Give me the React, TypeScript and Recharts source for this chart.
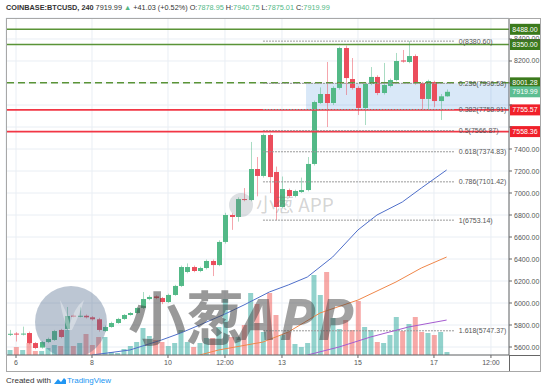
import React from 'react';
import {
  ComposedChart, Bar, Line, XAxis, YAxis, CartesianGrid, ReferenceLine, ReferenceArea, Cell,
} from 'recharts';

// ---- data (4h candles, index 0 = 5th 20:00) ----
const opens = [5715, 5722, 5716, 5727, 5636, 5595, 5645, 5664, 5755, 5764,
  5885, 5878, 5884, 5870, 5852, 5745, 5782, 5818, 5855, 5891,
  5909, 5955, 6036, 6060, 6045, 6009, 6073, 6155, 6282, 6327,
  6291, 6318, 6382, 6345, 6555, 6800, 6782, 6945, 6936, 7218,
  7155, 7527, 7191, 6873, 7027, 6973, 7009, 7027, 7264, 7818,
  7900, 7818, 7955, 8318, 8036, 7955, 7773, 7991, 8055, 7909,
  7973, 8027, 8205, 8191, 8245, 8000, 7855, 8009, 7836, 7878.95];
const highs = [5755, 5735, 5785, 5740, 5645, 5655, 5685, 5755, 5765, 5964,
  5895, 5960, 5895, 5880, 5865, 5795, 5830, 5865, 5900, 5918,
  5965, 6100, 6070, 6070, 6055, 6085, 6165, 6340, 6360, 6340,
  6330, 6395, 6395, 6570, 6820, 6815, 6960, 7045, 7464, 7327,
  7540, 7540, 7240, 7150, 7040, 7030, 7140, 7327, 7840, 7960,
  8191, 7970, 8330, 8340, 8227, 7970, 8000, 8145, 8070, 8182,
  8040, 8273, 8300, 8380.6, 8260, 8010, 8030, 8020, 7900, 7940.75];
const lows = [5700, 5650, 5705, 5625, 5580, 5585, 5635, 5655, 5680, 5750,
  5870, 5870, 5860, 5840, 5740, 5735, 5775, 5810, 5845, 5885,
  5900, 5945, 6025, 6035, 5990, 6000, 6065, 6145, 6270, 6280,
  6280, 6305, 6245, 6335, 6540, 6665, 6740, 6925, 6925, 6970,
  7140, 7000, 6753.14, 6860, 6960, 6960, 7000, 7015, 7250, 7810,
  7600, 7800, 7940, 7891, 7940, 7709, 7618, 7980, 7890, 7895,
  7960, 8015, 8185, 8180, 7985, 7755, 7760, 7780, 7664, 7875.01];
const closes = [5720, 5716, 5722, 5636, 5591, 5645, 5673, 5745, 5691, 5882,
  5878, 5884, 5870, 5852, 5755, 5782, 5818, 5855, 5891, 5909,
  5955, 6036, 6055, 6045, 6009, 6073, 6155, 6327, 6327, 6291,
  6318, 6382, 6345, 6555, 6800, 6782, 6945, 6936, 7218, 7155,
  7527, 7145, 6873, 7036, 6973, 7018, 7027, 7264, 7827, 7900,
  7818, 7955, 8318, 8045, 7955, 7773, 7991, 8055, 7909, 7982,
  8027, 8200, 8195, 8245, 8000, 7855, 8018, 7836, 7879, 7919.99];
const volumes = [500, 800, 500, 1200, 400, 400, 700, 1000, 900, 2500,
  900, 1200, 2100, 1000, 1800, 1800, 300, 200, 600, 900,
  1300, 2700, 1900, 1500, 1300, 900, 1200, 2500, 1300, 800,
  1200, 1700, 1700, 2800, 5600, 1800, 1800, 3000, 6200, 5100,
  2300, 6200, 4000, 2000, 2300, 1100, 800, 1200, 8000, 6000,
  8300, 3700, 2600, 3500, 2500, 5400, 2800, 2500, 1300, 1200,
  2000, 3800, 2400, 3100, 3800, 2300, 2200, 2000, 2300, 300];

// moving averages, sampled [candle index, price]
const maBlue: [number, number][] = [[13, 5527], [19, 5573], [24, 5664], [27, 5727], [30, 5800], [34, 5900],
  [37, 5982], [41, 6100], [44, 6164], [47, 6236], [51, 6418], [55, 6664], [58, 6800], [62, 6918], [65, 7045], [69, 7209]];
const maOrange: [number, number][] = [[30, 5527], [33, 5573], [40, 5645], [44, 5736], [49, 5909], [55, 6027],
  [61, 6191], [65, 6318], [69, 6418]];
const maPurple: [number, number][] = [[47, 5527], [52, 5600], [57, 5691], [63, 5782], [69, 5845]];

// x-axis ticks
const xTickIndex = [1, 13, 25, 34, 43, 55, 67, 76];
const xTickLabels = ['6', '8', '10', '12:00', '13', '15', '17', '12:00'];
const priceTicks = [5600, 5800, 6000, 6200, 6400, 6600, 6800, 7000, 7200, 7400, 7600, 7800, 8000, 8200, 8400];
const hiddenPriceTicks = [7600, 7800, 8000];

// fibonacci retracement
const fibRatios = ['0', '0.236', '0.382', '0.5', '0.618', '0.786', '1', '1.618'];
const fibPrices = [8380.60, 7996.58, 7758.91, 7566.87, 7374.83, 7101.42, 6753.14, 5747.37];
const fibStart = 40;
const fibEnd = 70.3;
const fibBoxStart = 46.8;

// horizontal levels
const greenLevels = [8488.00, 8350.00];
const dashedLevel = 8001.28;
const redLevels = [7755.57, 7558.36];
const lastPrice = 7919.99;

const X_DOMAIN: [number, number] = [-0.58, 78.85];
const Y_DOMAIN: [number, number] = [5527.3, 8590.9];

const GREEN = '#53b987';
const RED = '#eb4d5c';
const VOL_GREEN = 'rgba(38,166,154,0.5)';
const VOL_RED = 'rgba(239,83,80,0.5)';
const LEVEL_GREEN = '#5a9437';
const TAG_GREEN = '#3b7a1c';
const LEVEL_RED = '#f23645';
const FONT = '"Liberation Sans", Arial, sans-serif';

const toMap = (pts: [number, number][]) => {
  const m: Record<number, number> = {};
  pts.forEach(([i, v]) => { m[i] = v; });
  return m;
};
const blueMap = toMap(maBlue);
const orangeMap = toMap(maOrange);
const purpleMap = toMap(maPurple);

const data = opens.map((o, i) => ({
  i,
  open: o,
  high: highs[i],
  low: lows[i],
  close: closes[i],
  range: [lows[i], highs[i]],
  volume: volumes[i],
  maBlue: blueMap[i] ?? null,
  maOrange: orangeMap[i] ?? null,
  maPurple: purpleMap[i] ?? null,
}));

const Candle = (props: any) => {
  const { x, y, width, height, payload } = props;
  if (x == null || y == null) return <g />;
  const { open, close, high, low } = payload;
  const up = close >= open;
  const color = up ? GREEN : RED;
  const top = Math.min(y, y + height);
  const h = Math.abs(height);
  const range = high - low || 1;
  const py = (p: number) => top + ((high - p) / range) * h;
  const cx = Math.round(x + width / 2) + 0.5;
  const bTop = py(Math.max(open, close));
  const bBot = py(Math.min(open, close));
  return (
    <g>
      <line x1={cx} x2={cx} y1={top} y2={top + h} stroke={color} strokeOpacity={0.5} strokeWidth={1} />
      <rect x={cx - 2.5} y={bTop} width={5} height={Math.max(1, bBot - bTop)} fill={color} />
    </g>
  );
};

const PriceTick = (props: any) => {
  const { x, y, payload } = props;
  if (hiddenPriceTicks.includes(payload.value)) return <g />;
  return (
    <text x={x} y={y} dy={2.5} fontSize={7} fill="#555" fontFamily={FONT} textAnchor="start">
      {Number(payload.value).toFixed(2)}
    </text>
  );
};

const makeTag = (bg: string, text: string) => (props: any) => {
  const vb = props.viewBox || {};
  const x = (vb.x ?? 0) + (vb.width ?? 0) + 1;
  const y = vb.y ?? 0;
  return (
    <g>
      <rect x={x} y={y - 5.5} width={30} height={11} fill={bg} />
      <text x={x + 15} y={y + 2.5} textAnchor="middle" fontSize={7} fill="#fff" fontFamily={FONT}>{text}</text>
    </g>
  );
};

export default function App() {
  return (
    <div style={{ position: 'absolute', left: 0, top: 0, width: 550, height: 387, background: '#fff', fontFamily: FONT, overflow: 'hidden' }}>
      <div style={{ position: 'absolute', left: 6, top: 3, fontSize: 7.3, color: '#333', whiteSpace: 'nowrap', lineHeight: '10px' }}>
        <b>COINBASE:BTCUSD, 240</b> 7919.99 <span style={{ color: GREEN }}>▲</span> +41.03 (+0.52%) O:<span style={{ color: GREEN }}>7878.95</span> H:<span style={{ color: GREEN }}>7940.75</span> L:<span style={{ color: GREEN }}>7875.01</span> C:<span style={{ color: GREEN }}>7919.99</span>
      </div>
      <div style={{ position: 'absolute', left: 0, top: 0 }}>
        <ComposedChart width={550} height={387} data={data} margin={{ top: 18, right: 10, left: 6, bottom: 16 }}>
          <CartesianGrid stroke="#e9eef4" strokeWidth={1} />
          <XAxis
            dataKey="i" type="number" domain={X_DOMAIN} allowDataOverflow ticks={xTickIndex}
            tickFormatter={(v: number) => xTickLabels[xTickIndex.indexOf(v)] ?? ''}
            height={16} tickSize={3} tick={{ fontSize: 7, fill: '#555', fontFamily: FONT }}
            axisLine={{ stroke: '#666' }} tickLine={{ stroke: '#666' }} interval={0}
          />
          <XAxis xAxisId="v" dataKey="i" type="number" domain={X_DOMAIN} allowDataOverflow hide />
          <YAxis
            orientation="right" domain={Y_DOMAIN} allowDataOverflow ticks={priceTicks} width={31}
            tickSize={3} tick={<PriceTick />} axisLine={{ stroke: '#666' }} tickLine={{ stroke: '#666' }} interval={0}
          />
          <YAxis yAxisId="v" domain={[0, 33700]} hide allowDataOverflow />

          <Bar xAxisId="v" yAxisId="v" dataKey="volume" barSize={5} isAnimationActive={false}>
            {data.map((d, k) => (
              <Cell key={k} fill={d.close >= d.open ? VOL_GREEN : VOL_RED} />
            ))}
          </Bar>

          <ReferenceArea x1={fibBoxStart} y1={fibPrices[2]} y2={fibPrices[1]} fill="#2f80d8" fillOpacity={0.18} stroke="none" ifOverflow="extendDomain" />

          {greenLevels.map((p) => (
            <ReferenceLine key={p} y={p} stroke={LEVEL_GREEN} strokeWidth={1.5} label={makeTag(TAG_GREEN, p.toFixed(2))} />
          ))}
          <ReferenceLine y={dashedLevel} stroke={LEVEL_GREEN} strokeWidth={1.5} strokeDasharray="7 4" label={makeTag(TAG_GREEN, dashedLevel.toFixed(2))} />
          {redLevels.map((p) => (
            <ReferenceLine key={p} y={p} stroke={LEVEL_RED} strokeWidth={1.8} label={makeTag('#f0202a', p.toFixed(2))} />
          ))}
          <ReferenceLine y={lastPrice} stroke="none" strokeOpacity={0} label={makeTag('#5cbd92', lastPrice.toFixed(2))} />

          {fibPrices.map((p, k) => (
            <ReferenceLine
              key={'fib' + k}
              segment={[{ x: fibStart, y: p }, { x: fibEnd, y: p }]}
              stroke="#999" strokeWidth={1} strokeDasharray="2 1"
              label={{ value: `${fibRatios[k]}(${p.toFixed(2)})`, position: 'right', offset: 4, fontSize: 7, fill: '#555', fontFamily: FONT }}
            />
          ))}

          <Line dataKey="maBlue" stroke="#4f6fca" strokeWidth={1} dot={false} connectNulls isAnimationActive={false} />
          <Line dataKey="maOrange" stroke="#f0874a" strokeWidth={1} dot={false} connectNulls isAnimationActive={false} />
          <Line dataKey="maPurple" stroke="#a45bd0" strokeWidth={1} dot={false} connectNulls isAnimationActive={false} />

          <Bar dataKey="range" barSize={5} shape={<Candle />} isAnimationActive={false} />
        </ComposedChart>
      </div>

      {/* watermarks and frame */}
      <svg width={550} height={387} style={{ position: 'absolute', left: 0, top: 0, pointerEvents: 'none' }}>
        <defs>
          <clipPath id="plotClip">
            <rect x={6} y={18} width={503} height={337} />
          </clipPath>
        </defs>
        <g clipPath="url(#plotClip)">
          <circle cx={71} cy={322} r={36} fill="rgba(80,105,140,0.38)" />
          <path d="M60 300 q6 10 10 24 q4 -16 14 -24 q-4 14 -12 30 l-4 0 q-6 -14 -8 -30 z" fill="rgba(255,255,255,0.35)" />
          <text x={128} y={340} fontSize={58} fontWeight="bold" fill="rgba(70,70,70,0.55)" fontFamily='"Noto Sans CJK SC", sans-serif'>小葱</text>
          <text x={240} y={340} fontSize={58} fontWeight="bold" fontStyle="italic" letterSpacing={3} fill="rgba(70,70,70,0.5)" fontFamily='"Noto Sans", sans-serif'>APP</text>
          <circle cx={241} cy={205} r={12} fill="rgba(120,130,145,0.25)" />
          <text x={256} y={212} fontSize={19} fill="rgba(110,110,110,0.3)" fontFamily='"Noto Sans CJK SC", sans-serif'>小葱 APP</text>
        </g>
        <rect x={6.5} y={18.5} width={534} height={353} fill="none" stroke="#a8a8a8" />
        <line x1={509} x2={540} y1={355.5} y2={355.5} stroke="#666" />
        <line x1={509.5} x2={509.5} y1={355} y2={371} stroke="#666" />
      </svg>

      <div style={{ position: 'absolute', left: 6, top: 376, fontSize: 8, color: '#333', whiteSpace: 'nowrap', lineHeight: '10px' }}>
        Created with
        <svg width={12} height={8} style={{ marginLeft: 3, marginRight: 1, verticalAlign: 'middle' }}>
          <path d="M0 7 L4 2 L7 5 L10 1 L12 3 L12 7 Z" fill="#2196f3" />
        </svg>
        <span style={{ color: '#2196f3' }}>TradingView</span>
      </div>
    </div>
  );
}
